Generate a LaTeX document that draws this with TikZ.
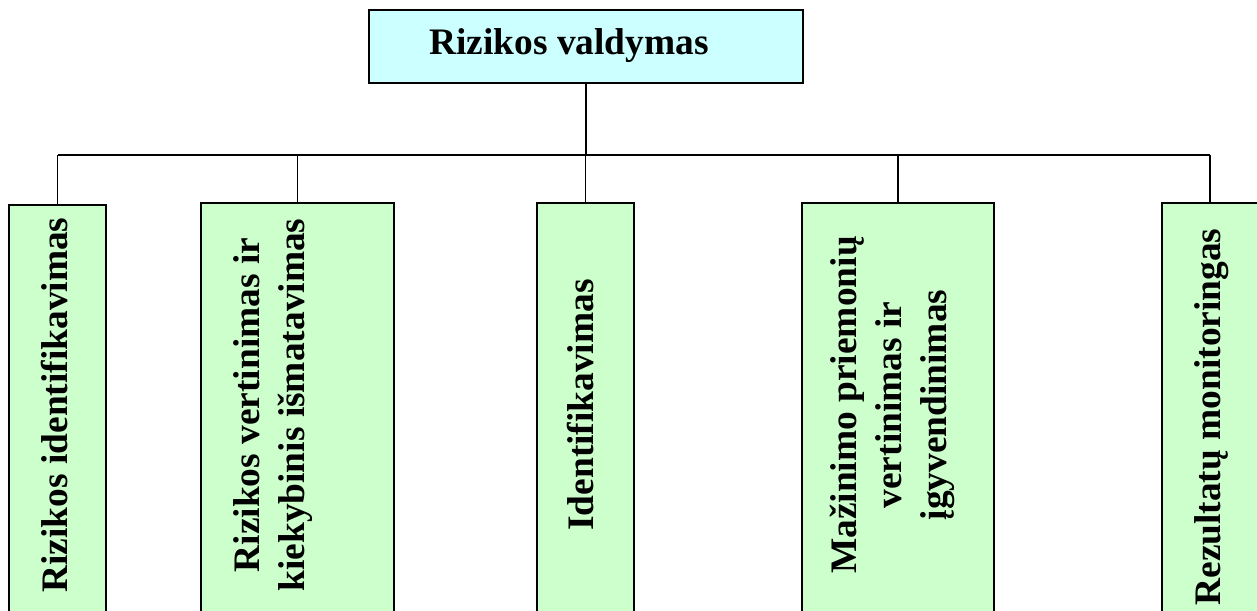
\documentclass[tikz,border=0pt]{standalone}
\usepackage{fontspec}
\setmainfont{Liberation Serif}
\definecolor{boxgreen}{HTML}{CCFFCC}
\definecolor{boxcyan}{HTML}{CCFFFF}
\begin{document}
\begin{tikzpicture}[x=0.5pt,y=-0.5pt,
  box/.style={draw=black, line width=1pt, fill=boxgreen, minimum width=48.5pt, minimum height=220pt, anchor=north, inner sep=0pt},
  topbox/.style={draw=black, line width=1pt, fill=boxcyan, minimum width=217pt, minimum height=36.5pt, inner sep=0pt},
  lbl/.style={font=\fontsize{18.7}{22.5}\selectfont\bfseries, rotate=90, anchor=base, align=center, inner sep=0pt},
  conn/.style={draw=black, line width=0.8pt}]
\useasboundingbox (0,0) rectangle (1257,610);
\clip (0,0) rectangle (1257,610);
\fill[white] (0,0) rectangle (1257,610);
% top box
\node[topbox] (top) at (586,46.5) {};
\node[font=\fontsize{18.7}{22.5}\selectfont\bfseries, anchor=base, inner sep=0pt] (title) at (569,55) {Rizikos valdymas};
% child boxes
\node[box, minimum width=48.5pt] (b1) at (57.5,204) {};
\node[box, minimum width=96.5pt] (b2) at (297.5,202) {};
\node[box, minimum width=48.5pt] (b3) at (585.5,202) {};
\node[box, minimum width=96pt]   (b4) at (898,202) {};
\node[box, minimum width=48pt]   (b5) at (1210,202) {};
% labels (anchor base = baseline of the last line)
\node[lbl] (t1) at (67,405) {Rizikos identifikavimas};
\node[lbl] (t2) at (304,405) {Rizikos vertinimas ir\\kiekybinis išmatavimas};
\node[lbl] (t3) at (593,405) {Identifikavimas};
\node[lbl] (t4) at (946,405) {Mažinimo priemonių\\vertinimas ir\\įgyvendinimas};
\node[lbl] (t5) at (1220,417) {Rezultatų monitoringas};
% connectors
\coordinate (bus) at (0,155);
\draw[conn] (top.south) -- (top.south |- bus);
\draw[conn] (b1.north |- bus) -- (b5.north |- bus);
\foreach \b in {b1,b2,b3,b4,b5} \draw[conn] (\b.north |- bus) -- (\b.north);
\end{tikzpicture}
\end{document}
